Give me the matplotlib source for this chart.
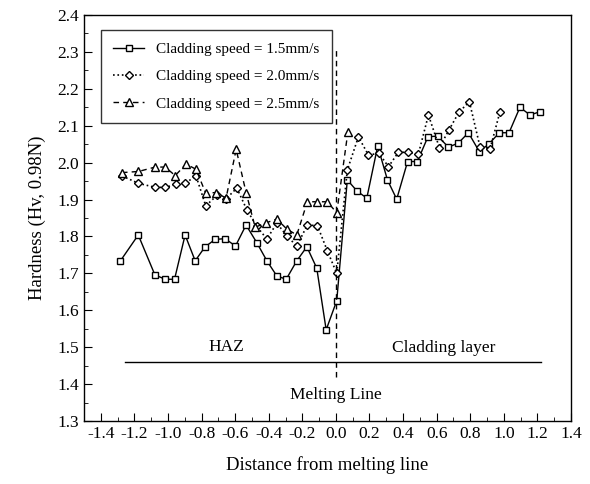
import matplotlib
matplotlib.use("Agg")
import matplotlib.pyplot as plt
from matplotlib.ticker import MultipleLocator

plt.rcParams['font.family'] = ['Liberation Serif', 'DejaVu Serif']

# Cladding speed = 1.5 mm/s (squares)
x15 = [-1.283, -1.177, -1.078, -1.017, -0.961, -0.898, -0.838, -0.779, -0.719, -0.660,
       -0.598, -0.535, -0.471, -0.411, -0.352, -0.296, -0.233, -0.173, -0.114, -0.058, 0.005,
       0.068, 0.128, 0.184, 0.249, 0.307, 0.362, 0.427, 0.485, 0.548, 0.606, 0.670, 0.729,
       0.789, 0.854, 0.912, 0.973, 1.031, 1.096, 1.156, 1.215]
y15 = [1.734, 1.804, 1.696, 1.684, 1.684, 1.804, 1.734, 1.772, 1.792, 1.794,
       1.774, 1.831, 1.783, 1.734, 1.693, 1.684, 1.734, 1.772, 1.714, 1.547, 1.626,
       1.953, 1.922, 1.904, 2.045, 1.953, 1.901, 2.003, 2.003, 2.070, 2.072, 2.042, 2.053,
       2.081, 2.030, 2.051, 2.081, 2.081, 2.150, 2.129, 2.138]

# Cladding speed = 2.0 mm/s (diamonds)
x20 = [-1.274, -1.176, -1.076, -1.017, -0.951, -0.898, -0.833, -0.775, -0.709, -0.654,
       -0.590, -0.530, -0.471, -0.411, -0.352, -0.289, -0.233, -0.170, -0.110, -0.051, 0.005,
       0.068, 0.134, 0.193, 0.257, 0.313, 0.372, 0.432, 0.491, 0.551, 0.616, 0.674, 0.733,
       0.795, 0.858, 0.918, 0.977]
y20 = [1.964, 1.944, 1.933, 1.933, 1.941, 1.944, 1.964, 1.883, 1.911, 1.902,
       1.931, 1.872, 1.827, 1.793, 1.836, 1.800, 1.774, 1.831, 1.829, 1.761, 1.700,
       1.980, 2.070, 2.021, 2.025, 1.989, 2.028, 2.028, 2.023, 2.129, 2.041, 2.089, 2.137,
       2.165, 2.043, 2.037, 2.138]

# Cladding speed = 2.5 mm/s (triangles)
x25 = [-1.274, -1.176, -1.076, -1.017, -0.957, -0.892, -0.833, -0.775, -0.715, -0.654,
       -0.594, -0.535, -0.481, -0.415, -0.352, -0.292, -0.233, -0.170, -0.110, -0.051, 0.005,
       0.071]
y25 = [1.973, 1.976, 1.988, 1.988, 1.965, 1.996, 1.982, 1.917, 1.919, 1.904,
       2.036, 1.919, 1.825, 1.837, 1.847, 1.820, 1.804, 1.894, 1.894, 1.894, 1.864,
       2.082]

labels = ["Cladding speed = 1.5mm/s", "Cladding speed = 2.0mm/s", "Cladding speed = 2.5mm/s"]

fig = plt.figure(figsize=(5.9, 4.84), dpi=100)
ax = fig.add_axes([0.1424, 0.1302, 0.8254, 0.8388])

mk = dict(markerfacecolor='white', markeredgecolor='black', markeredgewidth=1.0, color='black')
ax.plot(x15, y15, '-', marker='s', markersize=5, linewidth=1.0, label=labels[0], **mk)
ax.plot(x20, y20, ':', marker='D', markersize=4.5, linewidth=1.2, label=labels[1], **mk)
ax.plot(x25, y25, '--', marker='^', markersize=5.5, linewidth=1.0, dashes=(4, 3), label=labels[2], **mk)

# melting line and region markers
ax.plot([0, 0], [1.42, 2.313], color='black', linewidth=1.0, linestyle=(0, (4, 3)))
ax.plot([-1.255, 1.221], [1.46, 1.46], color='black', linewidth=1.0)
ax.text(-0.65, 1.50, "HAZ", ha='center', va='center', fontsize=12.5)
ax.text(0.64, 1.497, "Cladding layer", ha='center', va='center', fontsize=12.5)
ax.text(0.0, 1.37, "Melting Line", ha='center', va='center', fontsize=12.5)

ax.set_xlim(-1.5, 1.4)
ax.set_ylim(1.3, 2.4)
ax.xaxis.set_major_locator(MultipleLocator(0.2))
ax.xaxis.set_minor_locator(MultipleLocator(0.1))
ax.yaxis.set_major_locator(MultipleLocator(0.1))
ax.yaxis.set_minor_locator(MultipleLocator(0.05))
ax.tick_params(which='both', direction='in', top=False, right=False, labelsize=12.5)
ax.tick_params(which='major', length=6)
ax.tick_params(which='minor', length=3)
ax.set_xticks([round(-1.4 + 0.2 * i, 1) for i in range(15)])
ax.set_xticklabels([f"{-1.4 + 0.2 * i:.1f}".replace('-0.0', '0.0') for i in range(15)])
ax.set_yticklabels([f"{v:.1f}" for v in ax.get_yticks()])

ax.set_xlabel("Distance from melting line", fontsize=13.5, labelpad=10)
ax.set_ylabel("Hardness (Hv, 0.98N)", fontsize=13.5, labelpad=8)

leg = ax.legend(loc='upper left', bbox_to_anchor=(0.035, 0.963), fontsize=11,
                frameon=True, fancybox=False, edgecolor='black', borderpad=0.8,
                labelspacing=0.9, handlelength=2.0, borderaxespad=0.0)
leg.get_frame().set_linewidth(1.0)

for s in ax.spines.values():
    s.set_linewidth(1.0)

fig.savefig("out.png", dpi=100)
